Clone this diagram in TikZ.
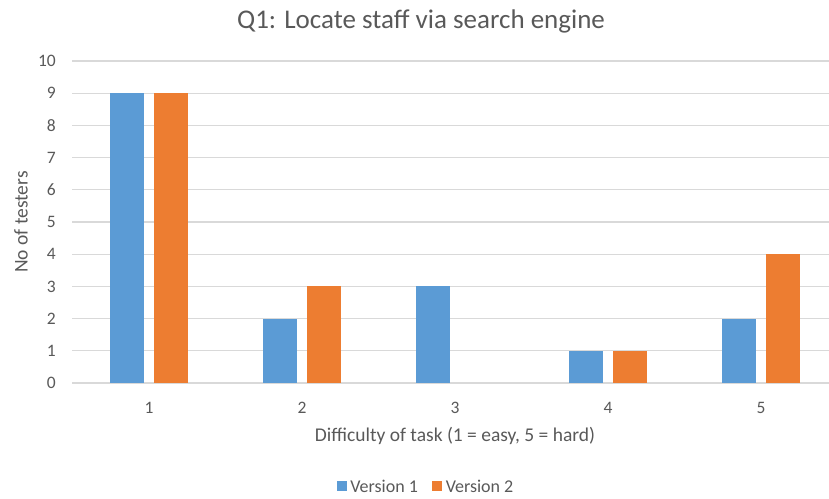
\documentclass[tikz,border=0pt]{standalone}
\usepackage{fontspec}
\setmainfont{Carlito}
\usepackage{xcolor}
\usetikzlibrary{positioning}

\definecolor{vblue}{HTML}{5B9BD5}
\definecolor{vorange}{HTML}{ED7D31}
\definecolor{txtgray}{HTML}{595959}
\definecolor{gridgray}{HTML}{D9D9D9}

\tikzset{
  gridline/.style={draw=gridgray, line width=1.3pt},
  ticklab/.style={text=txtgray, inner sep=0pt, font=\fontsize{17.5}{19}\selectfont},
  axtitle/.style={text=txtgray, inner sep=0pt, font=\fontsize{19.5}{22}\selectfont},
  legkey/.style={minimum size=10pt, inner sep=0pt, draw=none, fill=#1},
  legtext/.style={text=txtgray, inner sep=0pt, font=\fontsize{18}{20}\selectfont},
}

\begin{document}
\begin{tikzpicture}[x=1pt,y=-1pt]
  \useasboundingbox (0,0) rectangle (829,498);

  % grid and y ticks
  \foreach \v in {0,...,10} {
    \draw[gridline] (72,{383-32.2*\v}) -- (829,{383-32.2*\v});
    \node[ticklab, anchor=east] (ytick\v) at (56,{383-32.2*\v}) {\v};
  }

  % bars
  \foreach \i/\a/\b in {1/9/9, 2/2/3, 3/3/0, 4/1/1, 5/2/4} {
    \pgfmathsetmacro{\c}{72+153*(\i-0.5)+0.5}
    \fill[vblue] (\c-39,383) rectangle (\c-5,{383-32.2*\a});
    \ifnum\b>0
      \fill[vorange] (\c+5,383) rectangle (\c+39,{383-32.2*\b});
    \fi
    \node[ticklab] (xtick\i) at (\c,408) {\i};
  }

  % titles
  \node[text=txtgray, inner sep=0pt, font=\fontsize{27}{30}\selectfont] (title) at (421,21) {Q1: Locate staff via search engine};
  \node[axtitle] (xtitle) at (455,436) {Difficulty of task (1 = easy, 5 = hard)};
  \node[axtitle, rotate=90] (ytitle) at (21,222) {No of testers};

  % legend
  \node[legkey=vblue] (key1) at (342,486) {};
  \node[legtext, right=3pt of key1] (leg1) {Version 1};
  \node[legkey=vorange, right=14pt of leg1] (key2) {};
  \node[legtext, right=3pt of key2] (leg2) {Version 2};
\end{tikzpicture}
\end{document}
